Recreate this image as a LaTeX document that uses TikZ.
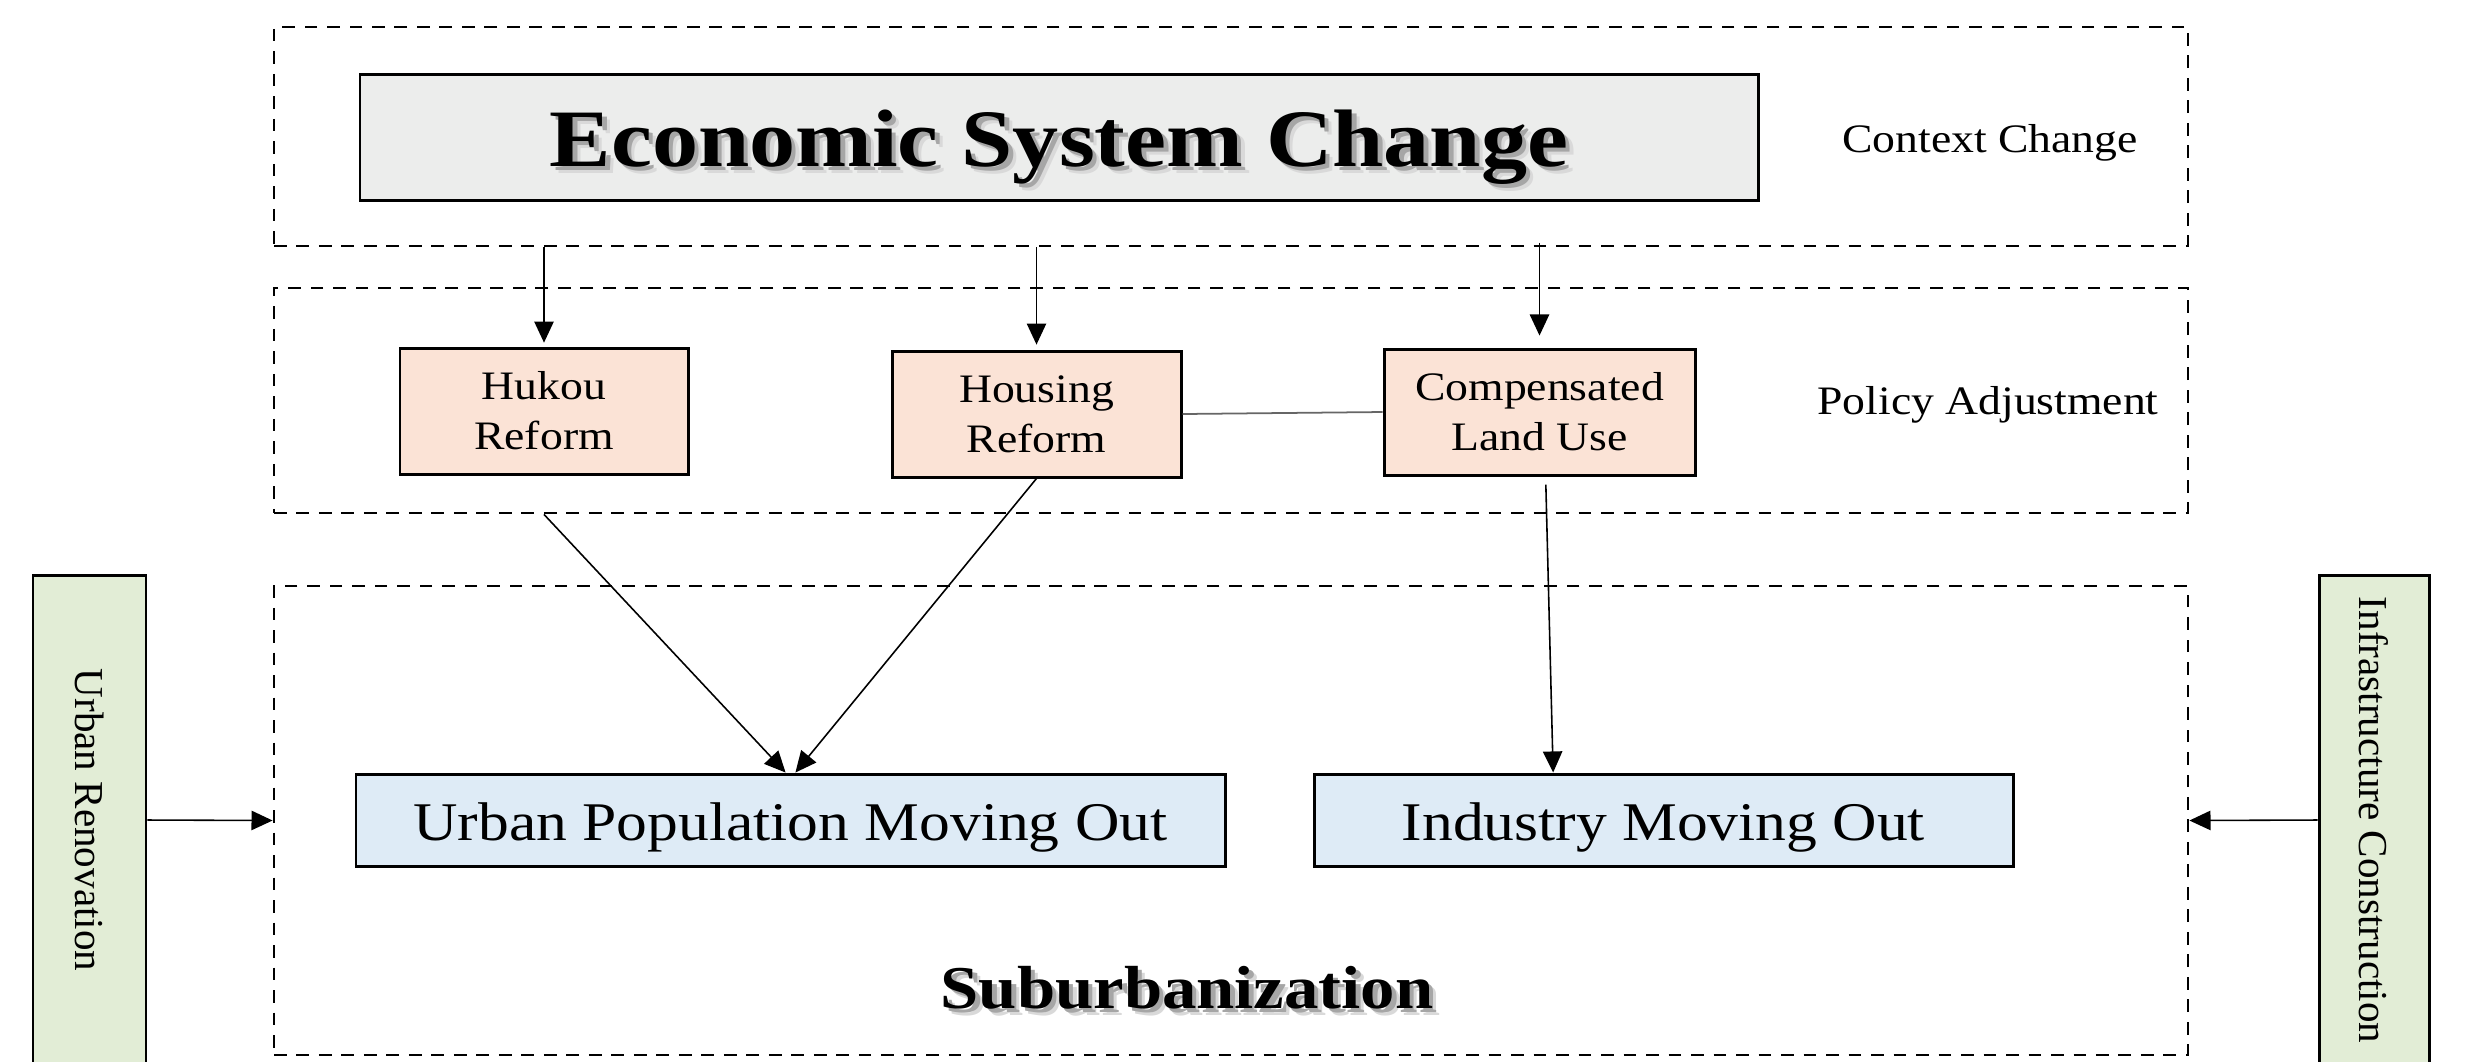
\documentclass[tikz,border=0pt]{standalone}
\usepackage{fontspec}
\setmainfont{Liberation Serif}[FakeStretch=1.13]
\newfontfamily\sidefont{Liberation Serif}
\usetikzlibrary{positioning, arrows.meta}
\definecolor{econgray}{RGB}{236,237,236}
\definecolor{peach}{RGB}{251,227,214}
\definecolor{paleblue}{RGB}{222,235,246}
\definecolor{palegreen}{RGB}{226,237,214}
\newcommand{\shadtext}[1]{\leavevmode\rlap{\kern2.2pt\raisebox{-2.2pt}{\color{black!15}#1}}\rlap{\kern1.3pt\raisebox{-1.3pt}{\color{black!35}#1}}#1}
\tikzset{
  zone/.style = {
    shape = rectangle,
    draw = black,
    line width = 0.8pt,
    dash pattern = on 3.6pt off 2.8pt,
  }
}
\tikzset{
  box1/.style = {
    shape = rectangle,
    draw = black,
    line width = 0.85pt,
    align = center,
    inner sep = 0pt,
  }
}
\tikzset{
  arrow1/.style = {
    draw = black, line width = 0.45pt, -{Triangle[length = 6pt, width = 5.5pt]},
  }
}

\begin{document}
\begin{tikzpicture}
            \useasboundingbox (0,0) rectangle (24.68,-10.61);
            % three dashed layers
            \node[zone, minimum width = 19.14cm, minimum height = 2.19cm](ctx) at (12.31,-1.365){};
            \node[zone, minimum width = 19.14cm, minimum height = 2.25cm](pol) at (12.31,-4.005){};
            \node[zone, minimum width = 19.14cm, minimum height = 4.69cm](sub) at (12.31,-8.205){};
            \node[box1, fill = econgray, minimum width = 13.98cm, minimum height = 1.26cm, text height = 16.5pt, text depth = 0pt, font = \fontsize{23.2}{26}\selectfont\bfseries](econ) at (10.59,-1.37){\shadtext{Economic System Change}};
            \node[anchor = base, font = \fontsize{11.5}{14.2}\selectfont](ctxlabel) at (19.90,-1.52){Context Change};
            \node[box1, fill = peach, minimum width = 2.88cm, minimum height = 1.26cm, font = \fontsize{11.5}{14.2}\selectfont](hukou) at (5.44,-4.11){Hukou\\Reform};
            \node[box1, fill = peach, minimum width = 2.89cm, minimum height = 1.26cm, font = \fontsize{11.5}{14.2}\selectfont](housing) at (10.365,-4.14){Housing\\Reform};
            \node[box1, fill = peach, minimum width = 3.11cm, minimum height = 1.26cm, font = \fontsize{11.5}{14.2}\selectfont](comp) at (15.395,-4.12){Compensated\\Land Use};
            \node[anchor = base, font = \fontsize{11.5}{14.2}\selectfont](pollabel) at (19.88,-4.14){Policy Adjustment};
            \node[box1, fill = paleblue, minimum width = 8.69cm, minimum height = 0.92cm, text height = 11.4pt, text depth = 0pt, font = \fontsize{15.5}{18}\selectfont](upop) at (7.905,-8.20){Urban Population Moving Out};
            \node[box1, fill = paleblue, minimum width = 6.99cm, minimum height = 0.92cm, text height = 11.4pt, text depth = 0pt, font = \fontsize{15.5}{18}\selectfont](indus) at (16.635,-8.20){Industry Moving Out};
            \node[anchor = base, font = \fontsize{17.3}{20}\selectfont\bfseries](sublabel) at (11.87,-10.08){\shadtext{Suburbanization}};
            \node[box1, fill = palegreen, minimum width = 1.13cm, minimum height = 4.9cm, font = \sidefont\fontsize{11.7}{14}\selectfont](renov) at (0.895,-8.20){\rotatebox{-90}{Urban Renovation}};
            \node[box1, fill = palegreen, minimum width = 1.10cm, minimum height = 4.9cm, font = \sidefont\fontsize{11.7}{14}\selectfont](infra) at (23.74,-8.20){\rotatebox{-90}{Infrastructure Construction}};
            \draw[arrow1](ctx.south -| hukou) -- ([yshift = 1.1pt]hukou.north);
            \draw[arrow1](ctx.south -| housing) -- ([yshift = 1.4pt]housing.north);
            \draw[arrow1]([yshift = 1.4pt]ctx.south -| comp) -- ([yshift = 3.4pt]comp.north);
            \draw[draw = black!60, line width = 0.5pt](housing.east) -- (comp.west);
            \draw[arrow1](pol.south -| hukou) -- ([xshift = -1.4pt]upop.north);
            \draw[arrow1](housing.south) -- ([xshift = 1.4pt]upop.north);
            \draw[arrow1]([shift = {(1.8pt,-2.3pt)}]comp.south) -- ([xshift = -31.4pt]indus.north);
            \draw[arrow1](renov.east) -- (sub.west);
            \draw[arrow1](infra.west) -- (sub.east);
        \end{tikzpicture}
\end{document}
